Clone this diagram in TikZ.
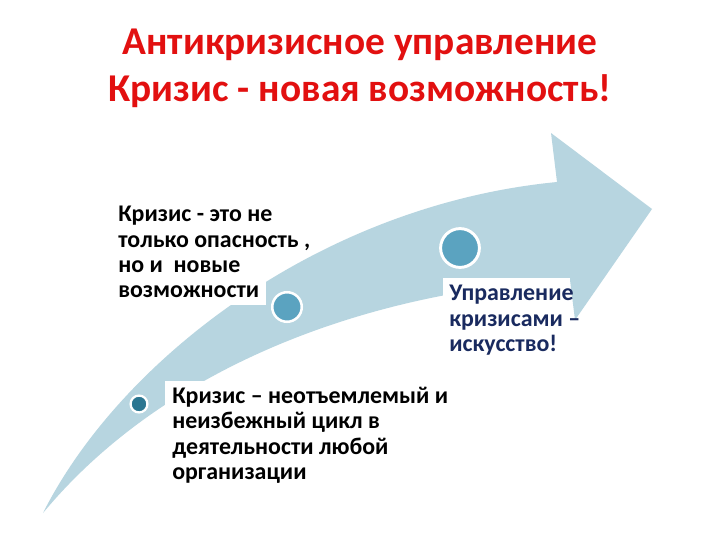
\documentclass[tikz,border=0pt]{standalone}
\usepackage{fontspec}
\setmainfont{Carlito}
\definecolor{arrowblue}{RGB}{183,213,224}
\definecolor{dotblue}{RGB}{91,163,192}
\definecolor{dotdark}{RGB}{43,118,145}
\definecolor{titlered}{RGB}{226,16,16}
\definecolor{navy}{RGB}{25,42,95}
\begin{document}
\begin{tikzpicture}[x=0.025cm, y=-0.025cm, line join=round,
    dot/.style={circle, fill=dotblue, draw=white, inner sep=0pt},
    txt/.style={anchor=north west, align=left, inner sep=0pt,
      font=\bfseries\fontsize{17}{18}\selectfont}]
  % Page frame
  \useasboundingbox[fill=white] (0,0) rectangle (720,540);

  % Key points of the arrow
  \coordinate (T) at (43,513);   % tail tip
  \coordinate (NU) at (557,182); % upper notch
  \coordinate (HU) at (551,133); % upper barb
  \coordinate (H) at (652,209);  % head tip
  \coordinate (HL) at (575,320); % lower barb
  \coordinate (NL) at (570,280); % lower notch

  % Arrow body
  \fill[arrowblue] (T) .. controls (120,360) and (320,205) .. (NU) -- (HU) -- (H)
    -- (HL) -- (NL) .. controls (380,290) and (170,360) .. (T) -- cycle;

  % Dots on the arrow
  \node[dot, fill=dotdark, minimum size=12pt, line width=1.6pt] (c1) at (139,404) {};
  \node[dot, minimum size=21pt, line width=1.8pt] (c2) at (287,307) {};
  \node[dot, minimum size=27.6pt, line width=2.1pt] (c3) at (460,248) {};

  % Title
  \node[anchor=north, align=center, inner sep=0pt, text=titlered,
    font=\bfseries\fontsize{28}{33}\selectfont] (title) at (360,29)
    {Антикризисное управление\\Кризис - новая возможность!};

  % Text boxes (white, so they hide the arrow)
  \fill[white] (112,200) rectangle (266,305);
  \fill[white] (165,381) rectangle (455,492);
  \fill[white] (443,278) rectangle (570,362);

  % Texts
  \node[txt] (chance) at (118,206)
    {Кризис - это не\\только опасность ,\\но и\ \ новые\\возможности};
  \node[txt] (cycle) at (172,387)
    {Кризис – неотъемлемый и\\неизбежный цикл в\\деятельности любой\\организации};
  \node[txt, text=navy] (art) at (449,285)
    {Управление\\кризисами –\\искусство!};
\end{tikzpicture}
\end{document}
